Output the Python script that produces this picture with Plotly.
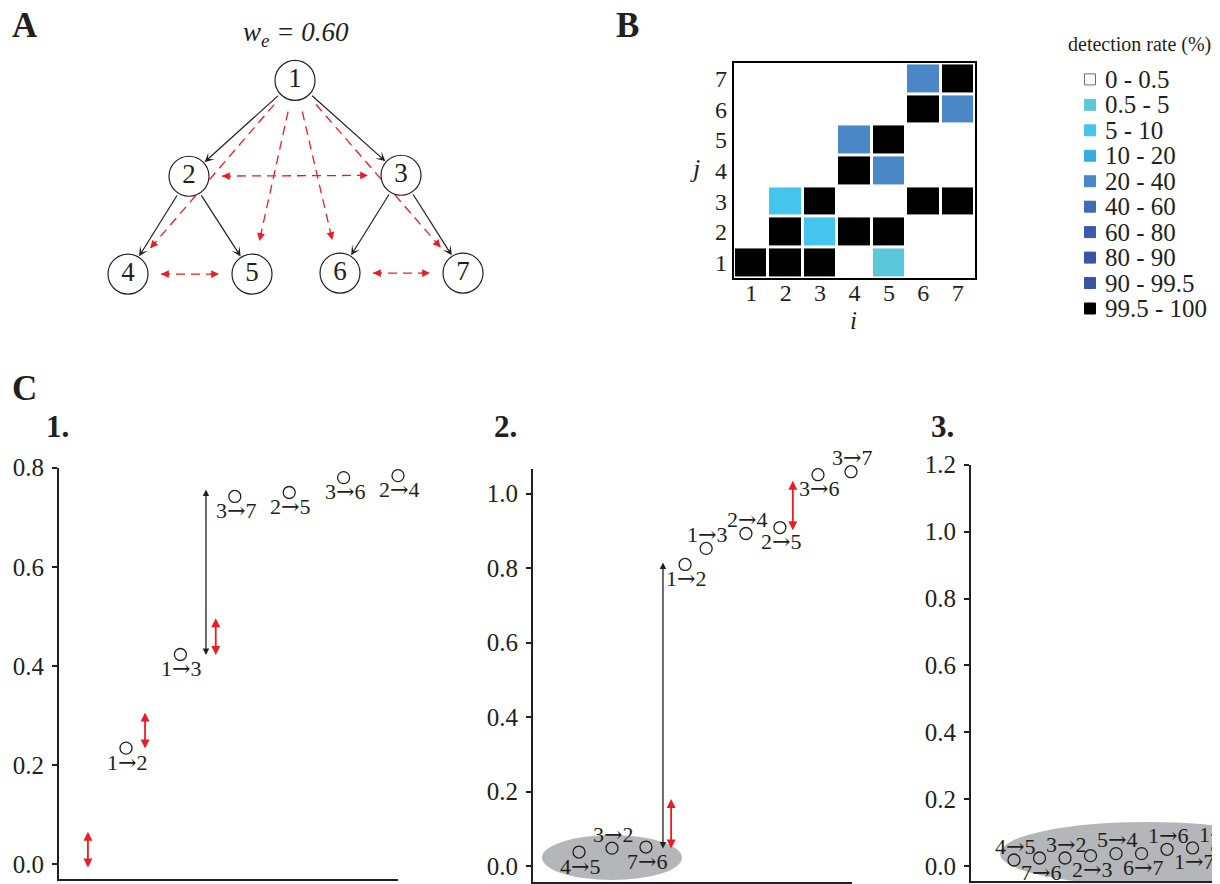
import plotly.graph_objects as go

W, H = 1220, 884
# measured page placement of the plot div: page_x = fig_x + 8, page_y = 0.987 * fig_y + 19.5
OX, OY, SY = 8.0, 19.5, 0.987
SERIF = "Liberation Serif"
INK = "#231F20"
RED = "#EC1C24"
ARROW = '<span style="font-family:DejaVu Serif">→</span>'

# ---------------- Panel A: network ----------------
node_ids = [1, 2, 3, 4, 5, 6, 7]
node_px = [295, 189, 401, 128, 252, 340, 463]
node_py = [79, 175, 174, 273, 273, 272, 272]
tree_edges = [(1, 2), (1, 3), (2, 4), (2, 5), (3, 6), (3, 7)]
extra_edges = [(1, 4), (1, 5), (1, 6), (1, 7)]
mutual_edges = [(2, 3), (4, 5), (6, 7)]
w_e = 0.60

# ---------------- Panel B: detection-rate matrix ----------------
rate_bins = ["0 - 0.5", "0.5 - 5", "5 - 10", "10 - 20", "20 - 40",
             "40 - 60", "60 - 80", "80 - 90", "90 - 99.5", "99.5 - 100"]
rate_colors = ["#FFFFFF", "#5BC8DA", "#43C5EE", "#38ABE2", "#4A87C7",
               "#3E6BB5", "#3A5AAA", "#3954A5", "#3A52A3", "#000000"]
cell_i = [1, 2, 3, 5, 2, 3, 4, 5, 2, 3, 6, 7, 4, 5, 4, 5, 6, 7, 6, 7]
cell_j = [1, 1, 1, 1, 2, 2, 2, 2, 3, 3, 3, 3, 4, 4, 5, 5, 6, 6, 7, 7]
cell_bin = [9, 9, 9, 1, 9, 2, 9, 9, 2, 9, 9, 9, 9, 4, 4, 9, 9, 4, 4, 9]
ij_ticks = [1, 2, 3, 4, 5, 6, 7]

# ---------------- Panel C ----------------
c1_labels = ["1→2", "1→3", "3→7", "2→5", "3→6", "2→4"]
c1_x = [1, 2, 3, 4, 5, 6]
c1_y = [0.234, 0.423, 0.742, 0.750, 0.780, 0.784]
c1_side = ["below", "below", "below", "below", "below", "below"]
c1_red_x = [0.30, 1.35, 2.65]
c1_red_lo = [-0.010, 0.230, 0.419]
c1_red_hi = [0.065, 0.306, 0.496]
c1_blk_x = [2.47]
c1_blk_lo = [0.419]
c1_blk_hi = [0.756]
c1_yticks = [0.0, 0.2, 0.4, 0.6, 0.8]

c2_labels = ["4→5", "3→2", "7→6", "1→2", "1→3", "2→4", "2→5", "3→6", "3→7"]
c2_x = [1.0, 1.97, 2.97, 4.12, 4.74, 5.91, 6.91, 8.03, 9.0]
c2_y = [0.0375, 0.048, 0.051, 0.810, 0.853, 0.893, 0.909, 1.051, 1.059]
c2_side = ["below", "above", "below", "below", "above", "above", "below", "below", "above"]
c2_red_x = [3.71, 7.29]
c2_red_lo = [0.043, 0.898]
c2_red_hi = [0.180, 1.035]
c2_blk_x = [3.47]
c2_blk_lo = [0.043]
c2_blk_hi = [0.815]
c2_cluster = [0, 1, 2]
c2_yticks = [0.0, 0.2, 0.4, 0.6, 0.8, 1.0]

c3_labels = ["4→5", "7→6", "3→2", "2→3", "5→4", "6→7", "1→6", "1→7", "1→5"]
c3_x = [1, 2, 3, 4, 5, 6, 7, 8, 9]
c3_y = [0.018, 0.024, 0.024, 0.031, 0.037, 0.037, 0.050, 0.054, 0.052]
c3_side = ["above", "below", "above", "below", "above", "below", "above", "below", "above"]
c3_yticks = [0.0, 0.2, 0.4, 0.6, 0.8, 1.0, 1.2]

# ---------------- helpers (page pixel -> paper) ----------------
def px(x):
    return (x - OX) / W

def py(y):
    return 1 - (y - OY) / (SY * H)

fig = go.Figure()
annotations = []
shapes = []

def text_ann(x, y, t, size, ref="paper", xanchor="center", italic=False, bold=False, **kw):
    if italic:
        t = f"<i>{t}</i>"
    if bold:
        t = f"<b>{t}</b>"
    d = dict(x=px(x) if ref == "paper" else x, y=py(y) if ref == "paper" else y,
             xref="paper" if ref == "paper" else ref[0],
             yref="paper" if ref == "paper" else ref[1],
             text=t, showarrow=False, xanchor=xanchor, yanchor="middle",
             font=dict(family=SERIF, size=size, color=INK))
    d.update(kw)
    annotations.append(d)

# ---- overlay (page-pixel) axis for panel A + legend ----
pos = {n: (x, y) for n, x, y in zip(node_ids, node_px, node_py)}

def seg(a, b, s0, s1):
    (x0, y0), (x1, y1) = pos[a], pos[b]
    dx, dy = x1 - x0, y1 - y0
    L = (dx * dx + dy * dy) ** 0.5
    ux, uy = dx / L, dy / L
    return x0 + ux * s0, y0 + uy * s0, x1 - ux * s1, y1 - uy * s1, ux, uy

def head(x, y, ux, uy, color, width):
    annotations.append(dict(x=x, y=y, ax=x - ux * 10, ay=y - uy * 10,
                            xref="x", yref="y", axref="x", ayref="y", text="",
                            showarrow=True, arrowhead=2, arrowsize=1.3,
                            arrowwidth=width, arrowcolor=color, standoff=0))

for a, b in tree_edges:
    x0, y0, x1, y1, ux, uy = seg(a, b, 21, 21)
    annotations.append(dict(x=x1, y=y1, ax=x0, ay=y0, xref="x", yref="y",
                            axref="x", ayref="y", text="", showarrow=True,
                            arrowhead=3, arrowsize=1.3, arrowwidth=1.2,
                            arrowcolor=INK, standoff=0))

for a, b in extra_edges:
    x0, y0, x1, y1, ux, uy = seg(a, b, 32, 34)
    fig.add_trace(go.Scatter(x=[x0, x1], y=[y0, y1], mode="lines", xaxis="x", yaxis="y",
                             line=dict(color=RED, width=1.3, dash="9px,6px"),
                             hoverinfo="skip", showlegend=False))
    head(x1, y1, ux, uy, RED, 1.2)

for a, b in mutual_edges:
    x0, y0, x1, y1, ux, uy = seg(a, b, 33, 33)
    fig.add_trace(go.Scatter(x=[x0, x1], y=[y0, y1], mode="lines", xaxis="x", yaxis="y",
                             line=dict(color=RED, width=1.3, dash="9px,6px"),
                             hoverinfo="skip", showlegend=False))
    head(x1, y1, ux, uy, RED, 1.2)
    head(x0, y0, -ux, -uy, RED, 1.2)

fig.add_trace(go.Scatter(x=node_px, y=node_py, mode="markers+text", xaxis="x", yaxis="y",
                         text=[str(n) for n in node_ids], textposition="middle center",
                         textfont=dict(family=SERIF, size=27, color=INK),
                         marker=dict(size=40, color="white", line=dict(color=INK, width=1.2)),
                         hoverinfo="skip", showlegend=False))

text_ann(296, 33, f"<i>w</i><sub><i>e</i></sub><i> = {w_e:.2f}</i>", 27)

# ---- legend for panel B (drawn on page-pixel axis) ----
leg_y = [78 + 25.5 * k for k in range(len(rate_bins))]
fig.add_trace(go.Scatter(x=[1090] * len(rate_bins), y=leg_y, mode="markers",
                         xaxis="x", yaxis="y",
                         marker=dict(symbol="square", size=11, color=rate_colors,
                                     line=dict(color=["#6D6E71"] + rate_colors[1:], width=1)),
                         hoverinfo="skip", showlegend=False))
for lbl, yy in zip(rate_bins, leg_y):
    text_ann(1103, yy, lbl, 25, ref=("x", "y"), xanchor="left")
text_ann(1139, 43, "detection rate (%)", 20)

# ---- heatmap ----
z = [[0] * 7 for _ in range(7)]
for i, j, b in zip(cell_i, cell_j, cell_bin):
    z[j - 1][i - 1] = b
n = len(rate_colors)
cscale = []
for k, c in enumerate(rate_colors):
    cscale.append([k / n, c])
    cscale.append([(k + 1) / n, c])
fig.add_trace(go.Heatmap(z=z, x=ij_ticks, y=ij_ticks, xaxis="x2", yaxis="y2",
                         colorscale=cscale, zmin=-0.5, zmax=n - 0.5, showscale=False,
                         xgap=3, ygap=3, hoverinfo="skip"))
text_ann(695, 167, "j", 26, italic=True)
text_ann(853, 320, "i", 25, italic=True)

# ---- panel C ----
def panel_c(xa, ya, xs, ys, labels, sides, red=None, blk=None):
    fig.add_trace(go.Scatter(x=xs, y=ys, mode="markers", xaxis=xa, yaxis=ya,
                             marker=dict(symbol="circle-open", size=12, color=INK,
                                         line=dict(width=1.3, color=INK)),
                             cliponaxis=False, hoverinfo="skip", showlegend=False))
    for x, y, t, s in zip(xs, ys, labels, sides):
        annotations.append(dict(x=x, y=y, xref=xa, yref=ya, text=t.replace("→", ARROW),
                                showarrow=False, xanchor="center", yanchor="middle",
                                xshift=1, yshift=(-14 if s == "below" else 14),
                                font=dict(family=SERIF, size=22, color=INK)))
    for arr, col, wd in ((red, RED, 1.8), (blk, INK, 1.3)):
        if arr is None:
            continue
        for x, lo, hi in zip(*arr):
            annotations.append(dict(x=x, y=hi, ax=x, ay=lo, xref=xa, yref=ya,
                                    axref=xa, ayref=ya, text="", showarrow=True,
                                    arrowside="end+start", arrowhead=2, arrowsize=1.0,
                                    arrowwidth=wd, arrowcolor=col, standoff=0, startstandoff=0))

panel_c("x3", "y3", c1_x, c1_y, c1_labels, c1_side,
        red=(c1_red_x, c1_red_lo, c1_red_hi), blk=(c1_blk_x, c1_blk_lo, c1_blk_hi))
panel_c("x4", "y4", c2_x, c2_y, c2_labels, c2_side,
        red=(c2_red_x, c2_red_lo, c2_red_hi), blk=(c2_blk_x, c2_blk_lo, c2_blk_hi))
panel_c("x5", "y5", c3_x, c3_y, c3_labels, c3_side)

# grey cluster ellipses
cx = [c2_x[k] for k in c2_cluster]
cy = [c2_y[k] for k in c2_cluster]
shapes.append(dict(type="circle", xref="x4", yref="y4", layer="below",
                   x0=min(cx) - 1.09, x1=max(cx) + 1.06, y0=min(cy) - 0.075, y1=max(cy) + 0.032,
                   fillcolor="#B4B6B9", line=dict(width=0)))
shapes.append(dict(type="circle", xref="x5", yref="y5", layer="below",
                   x0=min(c3_x) - 0.55, x1=max(c3_x) + 3.0, y0=min(c3_y) - 0.075, y1=max(c3_y) + 0.078,
                   fillcolor="#B4B6B9", line=dict(width=0)))

# panel letters
for t, x, y, s in (("A", 25, 24, 35), ("B", 627, 24, 35), ("C", 24, 388, 35),
                   ("1.", 57, 426, 31), ("2.", 506, 426, 31), ("3.", 942, 426, 31)):
    text_ann(x, y, t, s, bold=True)

# ---------------- layout ----------------
def c_x(d0, d1, rng, anchor):
    return dict(domain=[max(0, px(d0)), min(1, px(d1))], range=rng, anchor=anchor, showline=True,
                linewidth=1.8, linecolor=INK, showticklabels=False, ticks="",
                showgrid=False, zeroline=False, fixedrange=True)

def c_y(d0, d1, rng, anchor, ticks):
    return dict(domain=[py(d1), py(d0)], range=rng, anchor=anchor, showline=True,
                linewidth=1.8, linecolor=INK, ticks="outside", ticklen=5, tickwidth=1.5,
                tickcolor=INK, tickvals=ticks, tickformat=".1f", ticklabelstandoff=3,
                tickfont=dict(family=SERIF, size=25, color=INK),
                showgrid=False, zeroline=False, fixedrange=True)

fig.update_layout(
    width=W, height=H, margin=dict(l=0, r=0, t=0, b=0),
    paper_bgcolor="white", plot_bgcolor="white", showlegend=False,
    xaxis=dict(domain=[0, 1], range=[OX, W + OX], visible=False, fixedrange=True),
    yaxis=dict(domain=[0, 1], range=[OY + SY * H, OY], visible=False, fixedrange=True),
    xaxis2=dict(domain=[px(734), px(975)], range=[0.5, 7.5], anchor="y2",
                showline=True, mirror=True, linewidth=2.2, linecolor="black",
                tickvals=ij_ticks, ticks="", showgrid=False, zeroline=False,
                ticklabelstandoff=-8,
                tickfont=dict(family=SERIF, size=24, color=INK), fixedrange=True),
    yaxis2=dict(domain=[py(277), py(62)], range=[0.5, 7.5], anchor="x2",
                showline=True, mirror=True, linewidth=2.2, linecolor="black",
                tickvals=ij_ticks, ticks="", showgrid=False, zeroline=False,
                tickfont=dict(family=SERIF, size=24, color=INK), fixedrange=True),
    xaxis3=c_x(59, 398, [-0.2316, 6.0], "y3"),
    yaxis3=c_y(467, 879, [-0.0302, 0.80], "x3", c1_yticks),
    xaxis4=c_x(533, 852, [-0.353, 9.03], "y4"),
    yaxis4=c_y(468, 882, [-0.0429, 1.067], "x4", c2_yticks),
    xaxis5=c_x(971, 1228, [-0.686, 9.39], "y5"),
    yaxis5=c_y(464, 881, [-0.0448, 1.2], "x5", c3_yticks),
    annotations=annotations, shapes=shapes,
)

fig.write_html("out.html")
